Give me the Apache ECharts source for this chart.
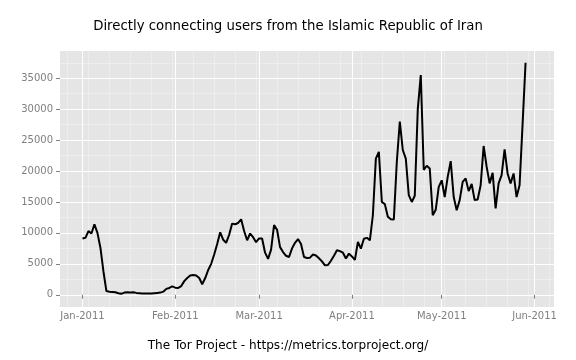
<!DOCTYPE html>
<html>
<head>
<meta charset="utf-8">
<script src="https://cdn.jsdelivr.net/npm/echarts@6/dist/echarts.min.js"></script>
<style>html,body{margin:0;padding:0;background:#fff}#c{width:576px;height:360px}</style>
</head>
<body>
<div id="c"></div>
<script>
// ---- data ----
const titleText = 'Directly connecting users from the Islamic Republic of Iran';
const footerText = 'The Tor Project - https://metrics.torproject.org/';
const firstDay = '2011-01-01';
// daily directly connecting users, starting at firstDay
const users = [
  9100, 9200, 10300, 9900, 11400, 10000, 7600, 3800, 600, 500,
  450, 400, 250, 150, 350, 400, 350, 400, 300, 250,
  200, 200, 220, 200, 250, 300, 350, 500, 950, 1100,
  1350, 1150, 1100, 1400, 2200, 2700, 3100, 3200, 3100, 2700,
  1700, 2700, 4000, 5000, 6500, 8200, 10100, 8900, 8400, 9700,
  11500, 11400, 11600, 12200, 10300, 8800, 9900, 9300, 8500, 9100,
  9100, 6800, 5800, 7300, 11250, 10500, 7700, 6900, 6300, 6100,
  7500, 8400, 9000, 8200, 6100, 5950, 6000, 6500, 6350, 5900,
  5400, 4750, 4800, 5500, 6300, 7200, 7050, 6800, 5850, 6650,
  6200, 5650, 8550, 7450, 9050, 9200, 8800, 12850, 22000, 23100,
  15000, 14650, 12600, 12200, 12150, 21500, 28000, 23400, 22000, 16100,
  15000, 16000, 30000, 35500, 20200, 20850, 20400, 12850, 13750, 17450,
  18500, 15800, 19050, 21600, 15800, 13650, 15300, 18250, 18800, 16750,
  17900, 15300, 15400, 17700, 24050, 20700, 18000, 19700, 13950, 18000,
  19350, 23500, 19600, 18000, 19600, 15800, 17700, 27500, 37500
];
const monthTickDates = ['2011-01-01','2011-02-01','2011-03-01','2011-04-01','2011-05-01','2011-06-01'];
const monthTickLabels = ['Jan-2011','Feb-2011','Mar-2011','Apr-2011','May-2011','Jun-2011'];
const yTickValues = [0, 5000, 10000, 15000, 20000, 25000, 30000, 35000];
const yMinorValues = [2500, 7500, 12500, 17500, 22500, 27500, 32500, 37500];
const axisRangeDates = ['2010-12-24T12:00:00Z', '2011-06-07T12:00:00Z'];

// ---- build ----
const DAY = 86400000;
const utc = s => Date.parse(s.length === 10 ? s + 'T00:00:00Z' : s);
const t0 = utc(firstDay);
const seriesData = users.map((v, i) => [t0 + i * DAY, v]);
const monthTs = monthTickDates.map(utc);
const xMin = utc(axisRangeDates[0]), xMax = utc(axisRangeDates[1]);
// weekly (Monday) minor grid positions
const weekTs = [];
for (let t = utc('2010-12-27'); t <= xMax; t += 7 * DAY) weekTs.push(t);

const FONT = 'DejaVu Sans';
const GREY = '#7F7F7F';

const chart = echarts.init(document.getElementById('c'), null, {renderer: 'canvas'});
chart.setOption({
  animation: false,
  backgroundColor: '#ffffff',
  title: [
    {text: titleText, left: 'center', top: 15,
     textStyle: {fontFamily: FONT, fontSize: 13.3, fontWeight: 'normal', color: '#000'}},
    {text: footerText, left: 'center', top: 335,
     textStyle: {fontFamily: FONT, fontSize: 12.1, fontWeight: 'normal', color: '#000'}}
  ],
  grid: {left: 60, right: 22, top: 51, bottom: 53, show: true,
         backgroundColor: '#E5E5E5', borderWidth: 0},
  xAxis: [
    {type: 'value', min: xMin, max: xMax, z: 1,
     axisLine: {show: false},
     axisTick: {show: true, length: 4, lineStyle: {color: GREY, width: 1}, customValues: monthTs},
     axisLabel: {customValues: monthTs, color: GREY, fontSize: 10, fontFamily: FONT, margin: 4,
       formatter: v => { const i = monthTs.indexOf(v); return i >= 0 ? monthTickLabels[i] : ''; }},
     splitLine: {show: true, lineStyle: {color: '#ffffff', width: 1}}},
    {type: 'value', min: xMin, max: xMax, z: 0, position: 'bottom',
     axisLine: {show: false},
     axisTick: {show: false, customValues: weekTs},
     axisLabel: {show: false, customValues: weekTs},
     splitLine: {show: true, lineStyle: {color: '#F2F2F2', width: 0.6}}}
  ],
  yAxis: [
    {type: 'value', min: -1980, max: 39400, z: 1,
     axisLine: {show: false},
     axisTick: {show: true, length: 4, lineStyle: {color: GREY, width: 1}, customValues: yTickValues},
     axisLabel: {customValues: yTickValues, color: GREY, fontSize: 10, fontFamily: FONT, margin: 7,
       formatter: v => String(v)},
     splitLine: {show: true, lineStyle: {color: '#ffffff', width: 1}}},
    {type: 'value', min: -1980, max: 39400, z: 0, position: 'left',
     axisLine: {show: false},
     axisTick: {show: false, customValues: yMinorValues},
     axisLabel: {show: false, customValues: yMinorValues},
     splitLine: {show: true, lineStyle: {color: '#F2F2F2', width: 0.6}}}
  ],
  series: [{
    type: 'line', xAxisIndex: 0, yAxisIndex: 0, z: 3,
    data: seriesData, showSymbol: false, symbol: 'none',
    lineStyle: {color: '#000000', width: 2}
  }]
});
</script>
</body>
</html>
